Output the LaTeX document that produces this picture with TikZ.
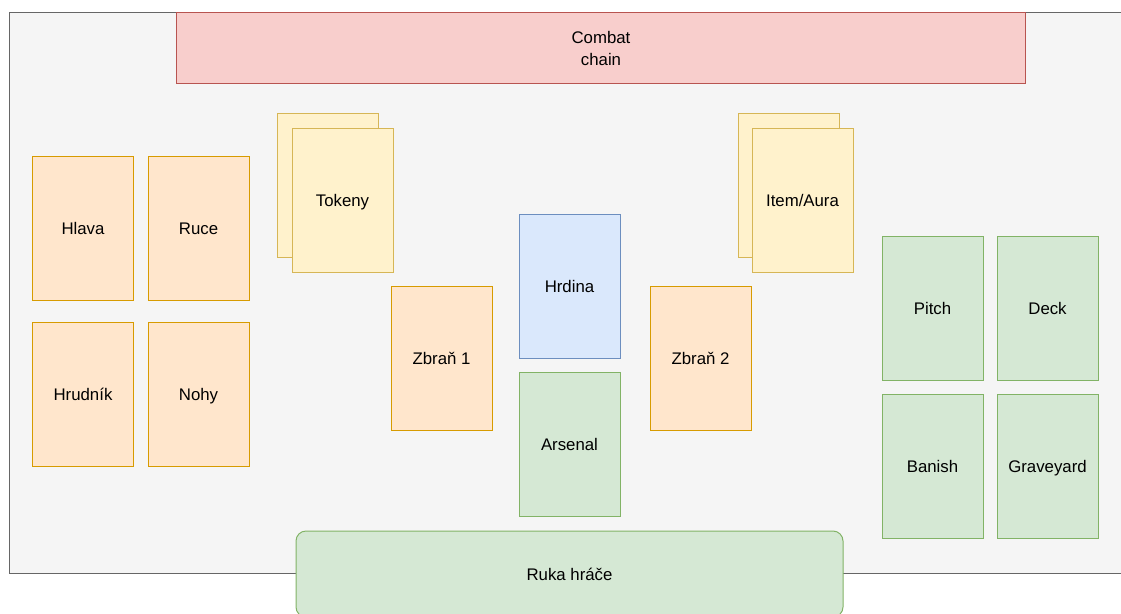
\documentclass[tikz,border=0pt]{standalone}
\usepackage{fontspec}
\setmainfont{Liberation Sans}
\definecolor{tableFill}{HTML}{F5F5F5}
\definecolor{tableLine}{HTML}{666666}
\definecolor{orangeFill}{HTML}{FFE6CC}
\definecolor{orangeLine}{HTML}{D79B00}
\definecolor{yellowFill}{HTML}{FFF2CC}
\definecolor{yellowLine}{HTML}{D6B656}
\definecolor{blueFill}{HTML}{DAE8FC}
\definecolor{blueLine}{HTML}{6C8EBF}
\definecolor{greenFill}{HTML}{D5E8D4}
\definecolor{greenLine}{HTML}{82B366}
\definecolor{redFill}{HTML}{F8CECC}
\definecolor{redLine}{HTML}{B85450}
\tikzset{
  zone/.style={draw, line width=1pt, inner sep=0pt, outer sep=0pt,
    font=\fontsize{16.8}{22}\selectfont, align=center, text=black},
  oneline/.style={text height=12pt, text depth=0pt},
  card/.style={zone, oneline, minimum width=101pt, minimum height=144pt},
  gear/.style={card, fill=orangeFill, draw=orangeLine},
  pile/.style={card, fill=yellowFill, draw=yellowLine},
  hero/.style={card, fill=blueFill, draw=blueLine},
  deckzone/.style={card, fill=greenFill, draw=greenLine},
}
\begin{document}
\begin{tikzpicture}[x=1pt,y=-1pt]
  \useasboundingbox (0,0) rectangle (1121,613);
  \clip (0,0) rectangle (1121,613);
  % play area
  \node[zone, fill=tableFill, draw=tableLine, minimum width=1130pt, minimum height=561pt,
        anchor=north west] (table) at (9.5,12.5) {};
  % combat chain
  \node[zone, fill=redFill, draw=redLine, minimum width=849pt, minimum height=71pt]
        (combat) at (601,48) {Combat\\chain};
  % equipment
  \node[gear] (hlava)   at (83,228.5) {Hlava};
  \node[gear] (ruce)    at (198.5,228.5) {Ruce};
  \node[gear] (hrudnik) at (83,394) {Hrudník};
  \node[gear] (nohy)    at (198.5,394) {Nohy};
  % tokens
  \node[pile] (tokenyBack) at (328,185) {};
  \node[pile] (tokeny)     at (342.5,200) {Tokeny};
  % items and auras
  \node[pile] (itemBack) at (788.5,185) {};
  \node[pile] (item)     at (802.5,200) {Item/Aura};
  % weapons, hero and arsenal
  \node[gear] (zbran1)  at (441.5,358) {Zbraň 1};
  \node[hero] (hrdina)  at (569.5,286) {Hrdina};
  \node[deckzone] (arsenal) at (569.5,444) {Arsenal};
  \node[gear] (zbran2)  at (700.5,358) {Zbraň 2};
  % deck zones
  \node[deckzone] (pitch)     at (932.5,308) {Pitch};
  \node[deckzone] (deck)      at (1047.5,308) {Deck};
  \node[deckzone] (banish)    at (932.5,466) {Banish};
  \node[deckzone] (graveyard) at (1047.5,466) {Graveyard};
  % hand
  \node[zone, oneline, fill=greenFill, draw=greenLine, rounded corners=10pt,
        minimum width=547pt, minimum height=86pt] (ruka) at (569.5,574) {Ruka hráče};
\end{tikzpicture}
\end{document}
